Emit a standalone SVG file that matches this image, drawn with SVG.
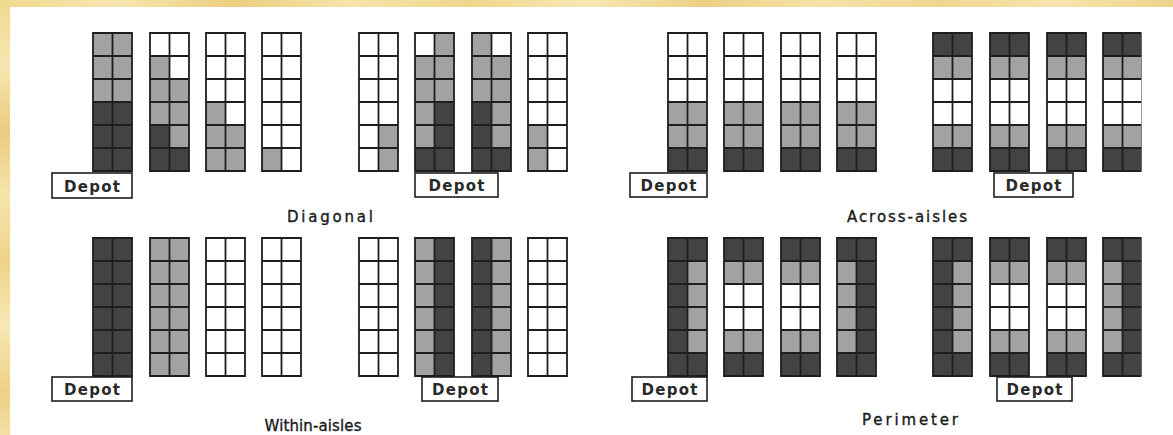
<svg xmlns="http://www.w3.org/2000/svg" xmlns:xlink="http://www.w3.org/1999/xlink" width="1173" height="435" viewBox="0 0 1173 435">
<style>
.d{fill:#434343}
.g{fill:#a2a2a2}
.w{fill:#ffffff}
.grid{fill:none;stroke:#1e1e1e;stroke-width:1.8}
.box{fill:#ffffff;stroke:#1e1e1e;stroke-width:1.6}
.dep{font-family:"DejaVu Sans",sans-serif;font-weight:bold;font-size:15px;fill:#2a2a2a;text-anchor:middle}
.lbl{font-family:"DejaVu Sans",sans-serif;font-size:15px;fill:#1a1a1a;stroke:#1a1a1a;stroke-width:0.35;text-anchor:middle}
</style>
<defs>
<linearGradient id="topg" x1="0" y1="0" x2="1" y2="0">
<stop offset="0" stop-color="#f0d88e"/><stop offset="0.1" stop-color="#f7e6b0"/><stop offset="0.2" stop-color="#eccf80"/><stop offset="0.3" stop-color="#f6e4ac"/><stop offset="0.4" stop-color="#efd68c"/><stop offset="0.5" stop-color="#f8e8b4"/><stop offset="0.6" stop-color="#ecd084"/><stop offset="0.7" stop-color="#f6e3aa"/><stop offset="0.8" stop-color="#efd690"/><stop offset="0.9" stop-color="#f7e5ae"/><stop offset="1" stop-color="#eed38a"/>
</linearGradient>
<linearGradient id="leftg" x1="0" y1="0" x2="0" y2="1">
<stop offset="0" stop-color="#f0d88e"/><stop offset="0.15" stop-color="#f7e6b0"/><stop offset="0.3" stop-color="#ebcd7e"/><stop offset="0.45" stop-color="#f6e4ac"/><stop offset="0.6" stop-color="#eed48a"/><stop offset="0.75" stop-color="#f8e8b4"/><stop offset="0.9" stop-color="#ecd084"/><stop offset="1" stop-color="#f4e0a4"/>
</linearGradient>
<path id="grid" class="grid" d="M0 0H39V138H0Z M19.5 0V138 M0 23H39 M0 46H39 M0 69H39 M0 92H39 M0 115H39"/>
<clipPath id="cut"><rect x="0" y="0" width="1141.5" height="435"/></clipPath>
</defs>

<rect x="0" y="0" width="1173" height="435" fill="url(#topg)"/>
<rect x="0" y="0" width="10" height="435" fill="url(#leftg)"/>
<rect x="10" y="7" width="1163" height="428" fill="#ffffff"/>

<!-- Diagonal -->
<g id="diagonal">
<g id="diag-r1"><rect class="w" x="93" y="33" width="39" height="138"/><rect class="g" x="93" y="33" width="39" height="69"/><rect class="d" x="93" y="102" width="39" height="69"/><use xlink:href="#grid" x="93" y="33"/></g>
<g id="diag-r2"><rect class="w" x="150" y="33" width="39" height="138"/><rect class="g" x="150" y="56" width="19.5" height="69"/><rect class="d" x="150" y="125" width="19.5" height="46"/><rect class="g" x="169.5" y="79" width="19.5" height="69"/><rect class="d" x="169.5" y="148" width="19.5" height="23"/><use xlink:href="#grid" x="150" y="33"/></g>
<g id="diag-r3"><rect class="w" x="206" y="33" width="39" height="138"/><rect class="g" x="206" y="102" width="19.5" height="69"/><rect class="g" x="225.5" y="125" width="19.5" height="46"/><use xlink:href="#grid" x="206" y="33"/></g>
<g id="diag-r4"><rect class="w" x="262" y="33" width="39" height="138"/><rect class="g" x="262" y="148" width="19.5" height="23"/><use xlink:href="#grid" x="262" y="33"/></g>
<g id="diag-r5"><rect class="w" x="359" y="33" width="39" height="138"/><rect class="g" x="378.5" y="125" width="19.5" height="46"/><use xlink:href="#grid" x="359" y="33"/></g>
<g id="diag-r6"><rect class="w" x="415" y="33" width="39" height="138"/><rect class="g" x="415" y="56" width="19.5" height="92"/><rect class="d" x="415" y="148" width="19.5" height="23"/><rect class="g" x="434.5" y="33" width="19.5" height="69"/><rect class="d" x="434.5" y="102" width="19.5" height="69"/><use xlink:href="#grid" x="415" y="33"/></g>
<g id="diag-r7"><rect class="w" x="472" y="33" width="39" height="138"/><rect class="g" x="472" y="33" width="19.5" height="69"/><rect class="d" x="472" y="102" width="19.5" height="69"/><rect class="g" x="491.5" y="56" width="19.5" height="92"/><rect class="d" x="491.5" y="148" width="19.5" height="23"/><use xlink:href="#grid" x="472" y="33"/></g>
<g id="diag-r8"><rect class="w" x="528" y="33" width="39" height="138"/><rect class="g" x="528" y="125" width="19.5" height="46"/><use xlink:href="#grid" x="528" y="33"/></g>
<g id="diag-depot1"><rect class="box" x="52" y="173" width="80" height="25"/><text class="dep" x="92" y="191.5" textLength="56" lengthAdjust="spacing">Depot</text></g>
<g id="diag-depot2"><rect class="box" x="415" y="173" width="83" height="24"/><text class="dep" x="456.5" y="191" textLength="56" lengthAdjust="spacing">Depot</text></g>
<text id="diag-label" class="lbl" x="330" y="222" textLength="86" lengthAdjust="spacing">Diagonal</text>
</g>

<!-- Across-aisles -->
<g id="across">
<g id="acr-r1"><rect class="w" x="668" y="33" width="39" height="138"/><rect class="g" x="668" y="102" width="39" height="46"/><rect class="d" x="668" y="148" width="39" height="23"/><use xlink:href="#grid" x="668" y="33"/></g>
<g id="acr-r2"><rect class="w" x="724" y="33" width="39" height="138"/><rect class="g" x="724" y="102" width="39" height="46"/><rect class="d" x="724" y="148" width="39" height="23"/><use xlink:href="#grid" x="724" y="33"/></g>
<g id="acr-r3"><rect class="w" x="781" y="33" width="39" height="138"/><rect class="g" x="781" y="102" width="39" height="46"/><rect class="d" x="781" y="148" width="39" height="23"/><use xlink:href="#grid" x="781" y="33"/></g>
<g id="acr-r4"><rect class="w" x="837" y="33" width="39" height="138"/><rect class="g" x="837" y="102" width="39" height="46"/><rect class="d" x="837" y="148" width="39" height="23"/><use xlink:href="#grid" x="837" y="33"/></g>
<g id="acr-r5"><rect class="w" x="933" y="33" width="39" height="138"/><rect class="d" x="933" y="33" width="39" height="23"/><rect class="g" x="933" y="56" width="39" height="23"/><rect class="g" x="933" y="125" width="39" height="23"/><rect class="d" x="933" y="148" width="39" height="23"/><use xlink:href="#grid" x="933" y="33"/></g>
<g id="acr-r6"><rect class="w" x="990" y="33" width="39" height="138"/><rect class="d" x="990" y="33" width="39" height="23"/><rect class="g" x="990" y="56" width="39" height="23"/><rect class="g" x="990" y="125" width="39" height="23"/><rect class="d" x="990" y="148" width="39" height="23"/><use xlink:href="#grid" x="990" y="33"/></g>
<g id="acr-r7"><rect class="w" x="1047" y="33" width="39" height="138"/><rect class="d" x="1047" y="33" width="39" height="23"/><rect class="g" x="1047" y="56" width="39" height="23"/><rect class="g" x="1047" y="125" width="39" height="23"/><rect class="d" x="1047" y="148" width="39" height="23"/><use xlink:href="#grid" x="1047" y="33"/></g>
<g id="acr-r8" clip-path="url(#cut)"><rect class="w" x="1103" y="33" width="39" height="138"/><rect class="d" x="1103" y="33" width="39" height="23"/><rect class="g" x="1103" y="56" width="39" height="23"/><rect class="g" x="1103" y="125" width="39" height="23"/><rect class="d" x="1103" y="148" width="39" height="23"/><use xlink:href="#grid" x="1103" y="33"/></g>
<g id="acr-depot1"><rect class="box" x="630" y="173" width="77" height="24"/><text class="dep" x="668.5" y="191" textLength="56" lengthAdjust="spacing">Depot</text></g>
<g id="acr-depot2"><rect class="box" x="994" y="173" width="79" height="24"/><text class="dep" x="1033.5" y="191" textLength="56" lengthAdjust="spacing">Depot</text></g>
<text id="acr-label" class="lbl" x="907" y="222" textLength="120" lengthAdjust="spacing">Across-aisles</text>
</g>

<!-- Within-aisles -->
<g id="within">
<g id="win-r1"><rect class="d" x="93" y="238" width="39" height="138"/><use xlink:href="#grid" x="93" y="238"/></g>
<g id="win-r2"><rect class="g" x="150" y="238" width="39" height="138"/><use xlink:href="#grid" x="150" y="238"/></g>
<g id="win-r3"><rect class="w" x="206" y="238" width="39" height="138"/><use xlink:href="#grid" x="206" y="238"/></g>
<g id="win-r4"><rect class="w" x="262" y="238" width="39" height="138"/><use xlink:href="#grid" x="262" y="238"/></g>
<g id="win-r5"><rect class="w" x="359" y="238" width="39" height="138"/><use xlink:href="#grid" x="359" y="238"/></g>
<g id="win-r6"><rect class="g" x="415" y="238" width="19.5" height="138"/><rect class="d" x="434.5" y="238" width="19.5" height="138"/><use xlink:href="#grid" x="415" y="238"/></g>
<g id="win-r7"><rect class="d" x="472" y="238" width="19.5" height="138"/><rect class="g" x="491.5" y="238" width="19.5" height="138"/><use xlink:href="#grid" x="472" y="238"/></g>
<g id="win-r8"><rect class="w" x="528" y="238" width="39" height="138"/><use xlink:href="#grid" x="528" y="238"/></g>
<g id="win-depot1"><rect class="box" x="52" y="377" width="80" height="24"/><text class="dep" x="92" y="395" textLength="56" lengthAdjust="spacing">Depot</text></g>
<g id="win-depot2"><rect class="box" x="422" y="377" width="76" height="24"/><text class="dep" x="460" y="395" textLength="56" lengthAdjust="spacing">Depot</text></g>
<text id="win-label" class="lbl" x="313" y="431" textLength="97" lengthAdjust="spacing">Within-aisles</text>
</g>

<!-- Perimeter -->
<g id="perimeter">
<g id="per-r1"><rect class="d" x="668" y="238" width="39" height="138"/><rect class="g" x="687.5" y="261" width="19.5" height="92"/><use xlink:href="#grid" x="668" y="238"/></g>
<g id="per-r2"><rect class="w" x="724" y="238" width="39" height="138"/><rect class="d" x="724" y="238" width="39" height="23"/><rect class="g" x="724" y="261" width="39" height="23"/><rect class="g" x="724" y="330" width="39" height="23"/><rect class="d" x="724" y="353" width="39" height="23"/><use xlink:href="#grid" x="724" y="238"/></g>
<g id="per-r3"><rect class="w" x="781" y="238" width="39" height="138"/><rect class="d" x="781" y="238" width="39" height="23"/><rect class="g" x="781" y="261" width="39" height="23"/><rect class="g" x="781" y="330" width="39" height="23"/><rect class="d" x="781" y="353" width="39" height="23"/><use xlink:href="#grid" x="781" y="238"/></g>
<g id="per-r4"><rect class="d" x="837" y="238" width="39" height="138"/><rect class="g" x="837" y="261" width="19.5" height="92"/><use xlink:href="#grid" x="837" y="238"/></g>
<g id="per-r5"><rect class="d" x="933" y="238" width="39" height="138"/><rect class="g" x="952.5" y="261" width="19.5" height="92"/><use xlink:href="#grid" x="933" y="238"/></g>
<g id="per-r6"><rect class="w" x="990" y="238" width="39" height="138"/><rect class="d" x="990" y="238" width="39" height="23"/><rect class="g" x="990" y="261" width="39" height="23"/><rect class="g" x="990" y="330" width="39" height="23"/><rect class="d" x="990" y="353" width="39" height="23"/><use xlink:href="#grid" x="990" y="238"/></g>
<g id="per-r7"><rect class="w" x="1047" y="238" width="39" height="138"/><rect class="d" x="1047" y="238" width="39" height="23"/><rect class="g" x="1047" y="261" width="39" height="23"/><rect class="g" x="1047" y="330" width="39" height="23"/><rect class="d" x="1047" y="353" width="39" height="23"/><use xlink:href="#grid" x="1047" y="238"/></g>
<g id="per-r8" clip-path="url(#cut)"><rect class="d" x="1103" y="238" width="39" height="138"/><rect class="g" x="1103" y="261" width="19.5" height="92"/><use xlink:href="#grid" x="1103" y="238"/></g>
<g id="per-depot1"><rect class="box" x="632" y="377" width="75" height="24"/><text class="dep" x="669.5" y="395" textLength="56" lengthAdjust="spacing">Depot</text></g>
<g id="per-depot2"><rect class="box" x="997" y="377" width="75" height="24"/><text class="dep" x="1034.5" y="395" textLength="56" lengthAdjust="spacing">Depot</text></g>
<text id="per-label" class="lbl" x="910" y="425" textLength="96" lengthAdjust="spacing">Perimeter</text>
</g>
</svg>
